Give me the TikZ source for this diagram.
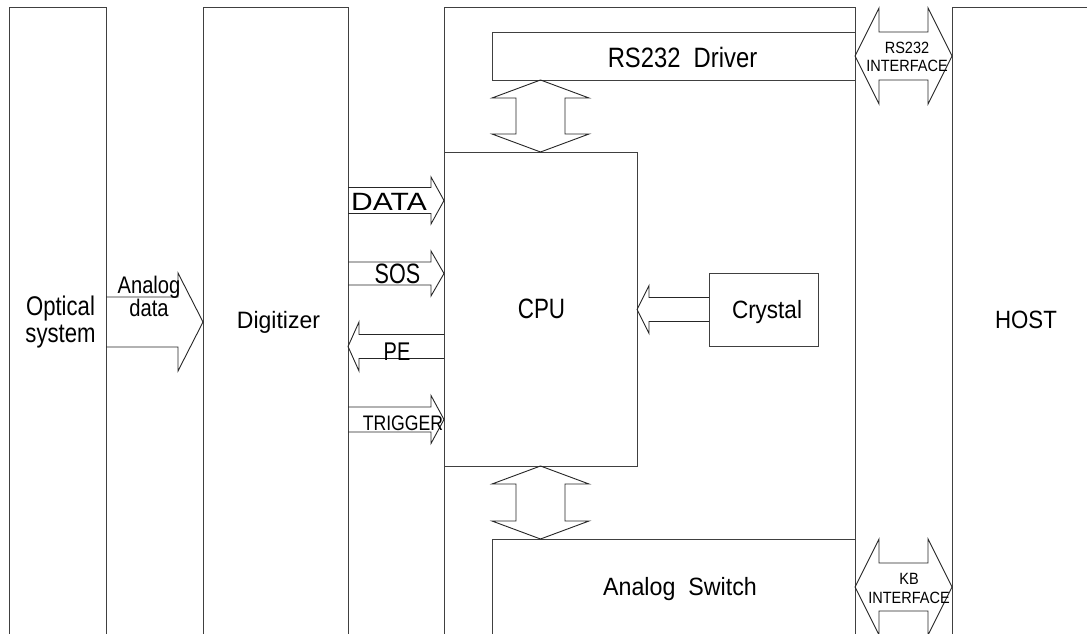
\documentclass[tikz,border=0pt]{standalone}
\usepackage{fontspec}
\setmainfont{Liberation Sans}
\usetikzlibrary{calc}
% font helper: #1 horizontal stretch, #2 size, #3 leading
\newcommand\fnt[3]{\fontspec[FakeStretch=#1]{Liberation Sans}\fontsize{#2}{#3}\selectfont}
% right-pointing block arrow: #1 tail point, #2 tip point, #3 shaft half, #4 head half, #5 head length
\newcommand\blockR[5]{\draw[arr] let \p1=#1, \p2=#2 in
  (\x1,\y2+#3) -- (\x2-#5,\y2+#3) -- (\x2-#5,\y2+#4) -- (\x2,\y2) -- (\x2-#5,\y2-#4) -- (\x2-#5,\y2-#3) -- (\x1,\y2-#3);}
% left-pointing block arrow
\newcommand\blockL[5]{\draw[arr] let \p1=#1, \p2=#2 in
  (\x1,\y2+#3) -- (\x2+#5,\y2+#3) -- (\x2+#5,\y2+#4) -- (\x2,\y2) -- (\x2+#5,\y2-#4) -- (\x2+#5,\y2-#3) -- (\x1,\y2-#3);}
% vertical double block arrow: #1 top tip, #2 bottom tip
\newcommand\blockDV[5]{\draw[arr] let \p1=#1, \p2=#2 in
  (\x1,\y1) -- (\x1+#4,\y1-#5) -- (\x1+#3,\y1-#5) -- (\x1+#3,\y2+#5) -- (\x1+#4,\y2+#5) -- (\x1,\y2)
  -- (\x1-#4,\y2+#5) -- (\x1-#3,\y2+#5) -- (\x1-#3,\y1-#5) -- (\x1-#4,\y1-#5) -- cycle;}
% horizontal double block arrow: #1 left tip, #2 right tip
\newcommand\blockDH[5]{\draw[arr] let \p1=#1, \p2=#2 in
  (\x1,\y1) -- (\x1+#5,\y1+#4) -- (\x1+#5,\y1+#3) -- (\x2-#5,\y1+#3) -- (\x2-#5,\y1+#4) -- (\x2,\y1)
  -- (\x2-#5,\y1-#4) -- (\x2-#5,\y1-#3) -- (\x1+#5,\y1-#3) -- (\x1+#5,\y1-#4) -- cycle;}
\begin{document}
\begin{tikzpicture}[x=1pt,y=-1pt,
  blk/.style={draw=black!75,line width=0.9pt,inner sep=0pt,outer sep=0pt,anchor=north west},
  arr/.style={draw=black!85,line width=0.9pt},
  lbl/.style={inner sep=0pt,outer sep=0pt,anchor=base,align=center},
  lblt/.style={inner sep=0pt,outer sep=0pt,anchor=north,align=center}]
\clip (0,0) rectangle (1087,634);
\fill[white] (0,0) rectangle (1087,634);
% boxes
\node[blk,minimum width=97pt,minimum height=700pt] (opt) at (9,7) {};
\node[blk,minimum width=145pt,minimum height=700pt] (dig) at (203,7) {};
\node[blk,minimum width=411pt,minimum height=700pt] (mcu) at (444,7) {};
\node[blk,minimum width=200pt,minimum height=700pt] (host) at (952,7) {};
\node[blk,minimum width=363pt,minimum height=48pt] (rsd) at (492,32) {};
\node[blk,minimum width=193pt,minimum height=314pt] (cpu) at (444,152) {};
\node[blk,minimum width=363pt,minimum height=200pt] (asw) at (492,539) {};
\node[blk,minimum width=109pt,minimum height=73pt] (crys) at (709,273) {};
% connectors
\blockR{(opt.east |- 0,322)}{(dig.west |- 0,322)}{25pt}{49pt}{25pt}
\blockR{(dig.east |- 0,200.5)}{(cpu.west |- 0,200.5)}{13pt}{23.5pt}{13pt}
\blockR{(dig.east |- 0,273.5)}{(cpu.west |- 0,273.5)}{11.5pt}{22.5pt}{13pt}
\blockL{(cpu.west |- 0,346.5)}{(dig.east |- 0,346.5)}{12pt}{24.5pt}{11pt}
\blockR{(dig.east |- 0,419.5)}{(cpu.west |- 0,419.5)}{12.5pt}{24pt}{13pt}
\blockL{(crys.west)}{(cpu.east |- crys.west)}{12pt}{24pt}{12pt}
\coordinate (vx) at (540.5,0);
\blockDV{(vx |- rsd.south)}{(vx |- cpu.north)}{24.5pt}{48.5pt}{18pt}
\blockDV{(vx |- cpu.south)}{(vx |- asw.north)}{24.5pt}{48.5pt}{18pt}
\blockDH{(mcu.east |- 0,56)}{(host.west |- 0,56)}{24pt}{48pt}{24pt}
\blockDH{(mcu.east |- 0,587)}{(host.west |- 0,587)}{24pt}{48pt}{24pt}
% labels
\node[lblt,font=\fnt{0.82}{27}{27}] (optl) at (60.5,296) {Optical\\system};
\node[lblt,font=\fnt{0.84}{24}{20.5}] (anl) at (149,276) {Analog\\data};
\node[lbl,font=\fnt{0.97}{23.7}{28}] (digl) at (278.5,328) {Digitizer};
\node[lbl,font=\fnt{0.8}{28}{30}] (cpul) at (541.5,318) {CPU};
\node[lbl,font=\fnt{0.89}{25}{30}] (hostl) at (1026,328) {HOST};
\node[lbl,font=\fnt{0.9}{25}{30}] (crysl) at (767,318) {Crystal};
\node[lbl,font=\fnt{0.85}{28}{30}] (rsdl) at (682.5,68) {RS232~~Driver};
\node[lbl,font=\fnt{0.93}{25}{30}] (aswl) at (680,595) {Analog~~Switch};
\node[lbl,font=\fnt{1.2}{25}{30}] (datal) at (389,210) {DATA};
\node[lbl,font=\fnt{0.77}{28}{30}] (sosl) at (397.5,283) {SOS};
\node[lbl,font=\fnt{0.78}{25.6}{30}] (pel) at (397,360) {PE};
\node[lbl,font=\fnt{0.84}{21}{24}] (trl) at (403,430) {TRIGGER};
\node[lblt,font=\fnt{0.89}{16.3}{18.4}] (rsil) at (907,41.7) {RS232\\INTERFACE};
\node[lblt,font=\fnt{0.89}{16.3}{19}] (kbil) at (909,573) {KB\\INTERFACE};
\end{tikzpicture}
\end{document}
